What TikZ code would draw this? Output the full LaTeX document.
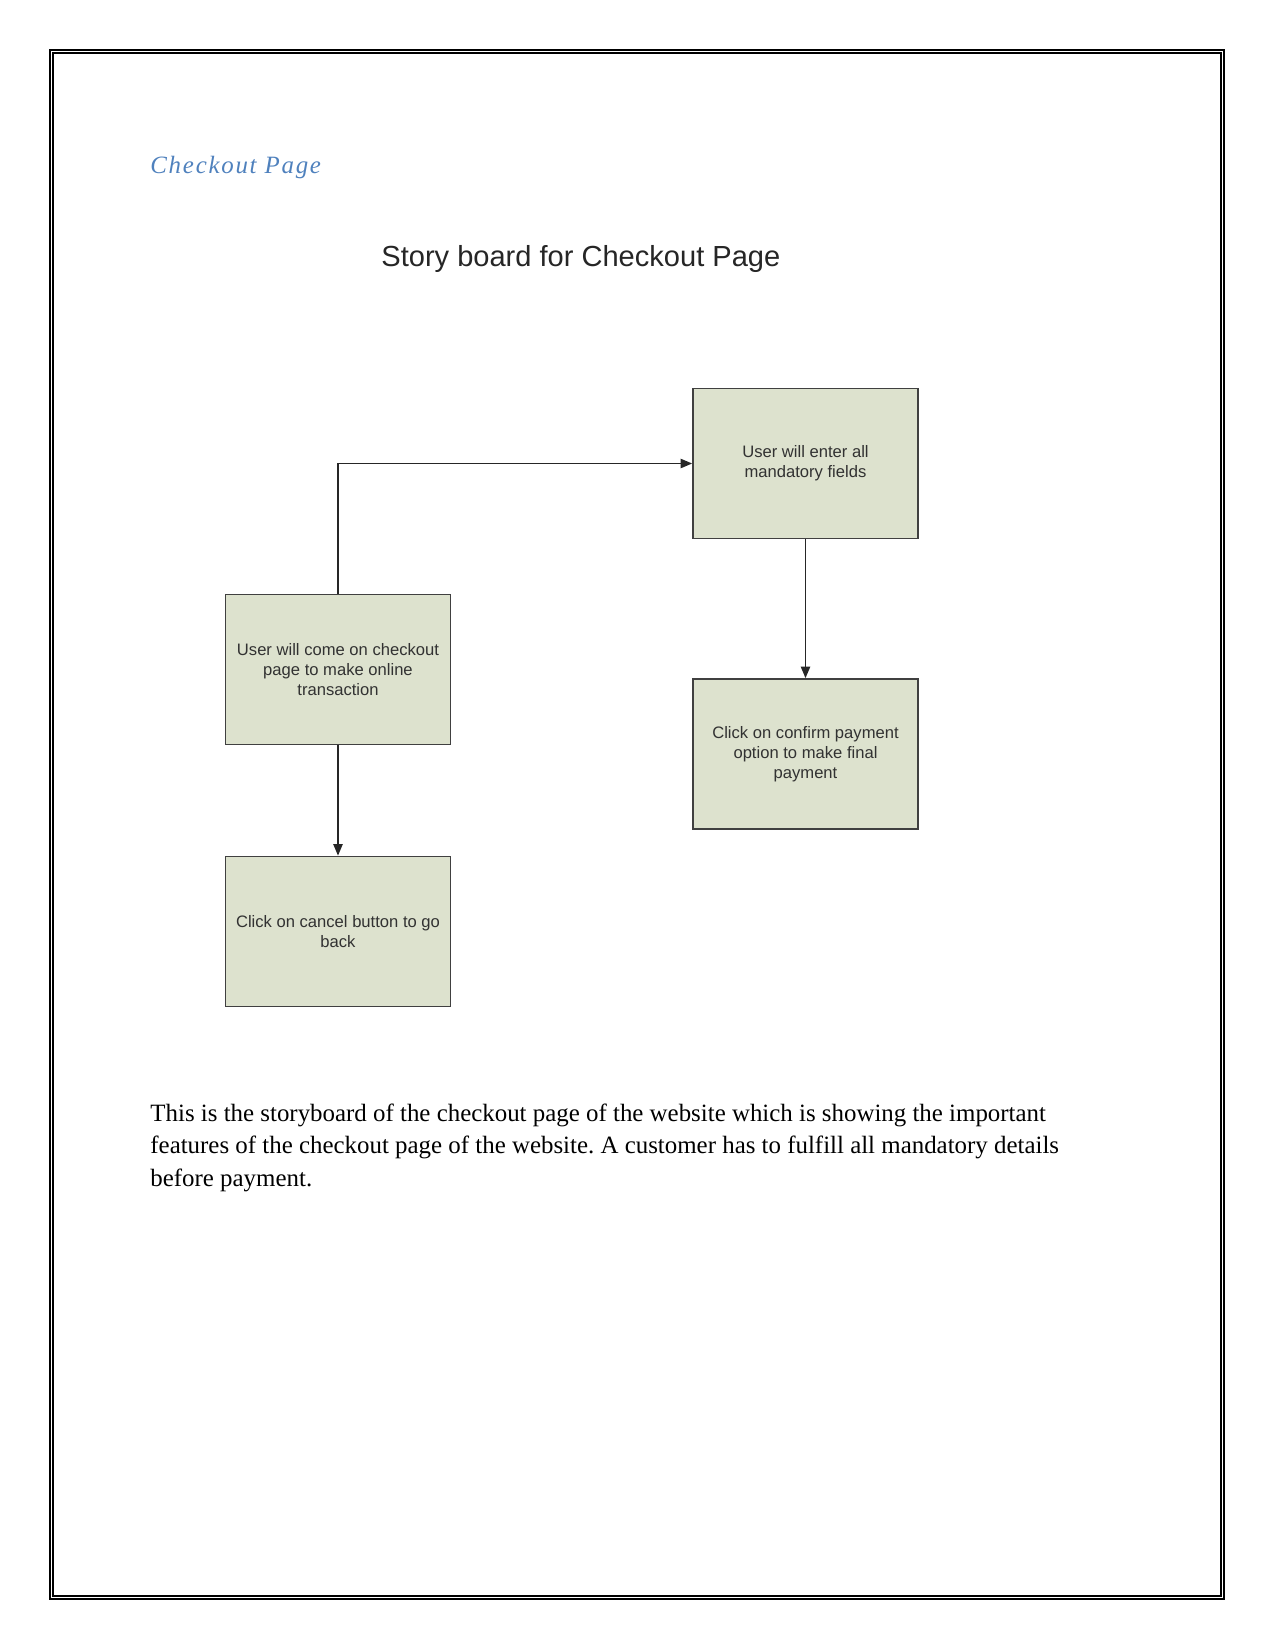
\documentclass[tikz,border=0pt]{standalone}
\usepackage{fontspec}
\setmainfont{Liberation Serif}
\setsansfont{Liberation Sans}
\newfontfamily\headfont[LetterSpace=7]{Liberation Serif}
\usepackage{xcolor}
\definecolor{headblue}{RGB}{79,129,189}
\definecolor{boxfill}{RGB}{221,226,206}
\definecolor{boxline}{RGB}{64,64,64}
\definecolor{boxtext}{RGB}{50,50,50}
\usetikzlibrary{arrows.meta,positioning}
\frenchspacing

\tikzset{
  sbox/.style={draw=boxline, fill=boxfill, line width=0.9pt, minimum width=1.5in, minimum height=1in, align=center, text=boxtext, font=\sffamily\fontsize{8}{9.6}\selectfont},
  flow/.style={-{Triangle[length=5.5pt,width=4.5pt]}, line width=0.6pt, black!85}
}

\begin{document}
\begin{tikzpicture}[x=0.016933cm, y=-0.016933cm]
  \useasboundingbox (0,0) rectangle (1275,1651);

  %% Page frame
  \draw[line width=0.6pt] (50,50) rectangle (1224,1599);
  \draw[line width=0.6pt] (53,53) rectangle (1221,1596);

  %% Headings
  \node[anchor=base west, inner sep=0, text=headblue, font=\headfont\itshape\fontsize{12}{14}\selectfont] (heading) at (150,173) {Checkout Page};
  \node[anchor=base west, inner sep=0, text=black!85, font=\sffamily\fontsize{14}{16}\selectfont] (title) at (381,266) {Story board for Checkout Page};

  %% Storyboard boxes
  \node[sbox] (enter) at (805.5,463.5) {User will enter all\\mandatory fields};
  \node[sbox] (come) at (338,669.5) {User will come on checkout\\page to make online\\transaction};
  \node[sbox] (confirm) at (805.5,754) {Click on confirm payment\\option to make final\\payment};
  \node[sbox] (cancel) at (338,931.5) {Click on cancel button to go\\back};

  %% Arrows
  \draw[flow] (come.north) |- (enter.west);
  \draw[flow] (enter.south) -- (confirm.north);
  \draw[flow] (come.south) -- (cancel.north);

  %% Description
  \node[anchor=base west, inner sep=0, font=\fontsize{12}{14}\selectfont] (line1) at (150,1121) {This is the storyboard of the checkout page of the website which is showing the important};
  \node[anchor=base west, inner sep=0, font=\fontsize{12}{14}\selectfont] (line2) at (150,1153) {features of the checkout page of the website. A customer has to fulfill all mandatory details};
  \node[anchor=base west, inner sep=0, font=\fontsize{12}{14}\selectfont] (line3) at (150,1186) {before payment.};
\end{tikzpicture}
\end{document}
